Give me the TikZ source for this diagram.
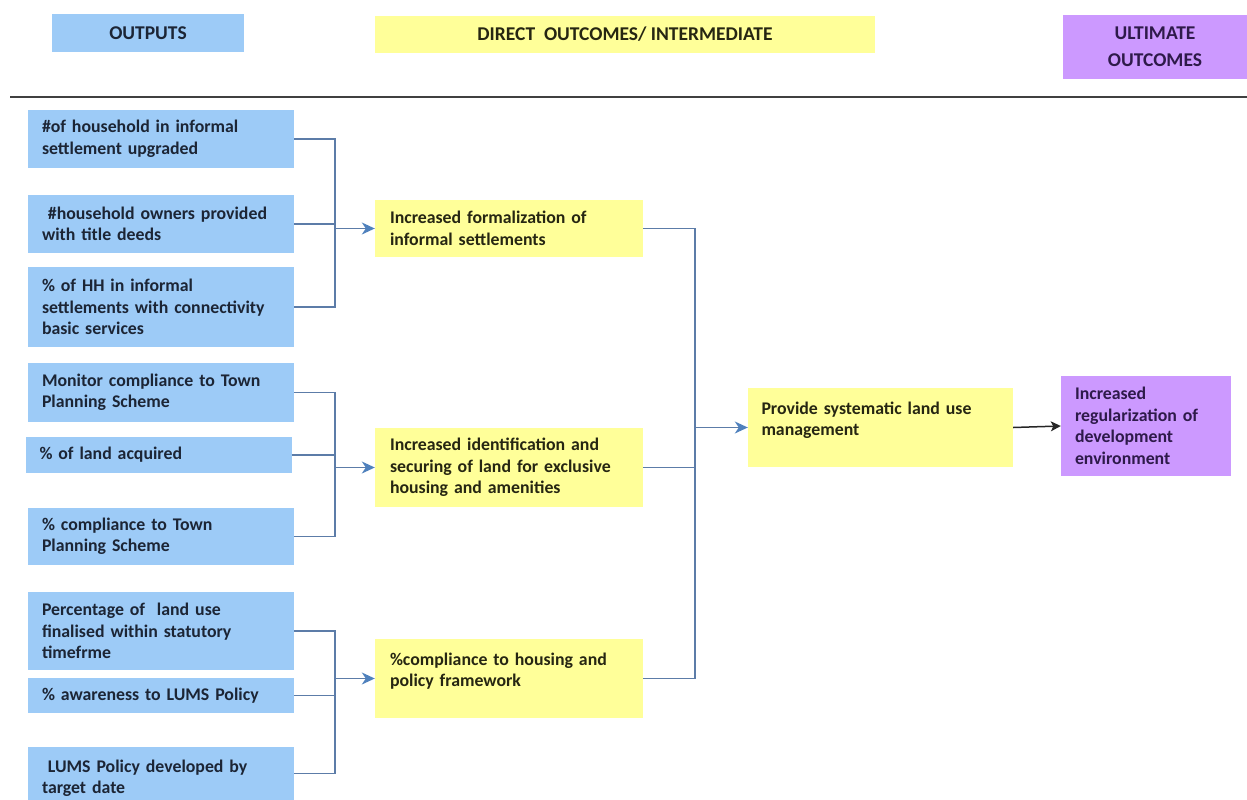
\documentclass[tikz,border=0pt]{standalone}
\usepackage{fontspec}
\setmainfont{Carlito}
\usetikzlibrary{arrows.meta}
\definecolor{outblue}{HTML}{9DCBF7}
\definecolor{dyellow}{HTML}{FFFF99}
\definecolor{upurple}{HTML}{CC99FF}
\definecolor{linec}{HTML}{5C7CA8}
\definecolor{tipc}{HTML}{4F81BD}
\definecolor{navytext}{HTML}{1C2535}
\definecolor{olivetext}{HTML}{262612}
\definecolor{purptext}{HTML}{2E1A4A}
\tikzset{
  base/.style={rectangle, inner sep=0pt, font=\fontsize{17.8}{21.5}\selectfont\bfseries},
  outbox/.style={base, fill=outblue, text=navytext, minimum width=266pt, text width=238pt, align=left},
  dirbox/.style={base, fill=dyellow, text=olivetext, text width=238pt, align=left},
  ultbox/.style={base, fill=upurple, text=purptext, text width=142pt, align=left},
  hdrbox/.style={rectangle, inner sep=0pt, font=\fontsize{19.5}{27}\selectfont\bfseries, align=center},
  conn/.style={draw=linec, line width=1.4pt},
  arr/.style={conn, -{Stealth[length=13pt,width=12pt,inset=4pt,color=tipc]}},
  blackarr/.style={draw=black!85, line width=1.5pt, -{Stealth[length=10pt,width=10pt,inset=2.5pt]}}
}
\begin{document}
\begin{tikzpicture}[x=1pt,y=-1pt]
\useasboundingbox (0,0) rectangle (1247,800);
% headers
\node[hdrbox, fill=outblue, text=navytext, minimum width=192pt, minimum height=38pt] (hout) at (148,33) {OUTPUTS};
\node[hdrbox, fill=dyellow, text=olivetext, minimum width=500pt, minimum height=37pt] (hdir) at (625,34.5) {DIRECT\ \ OUTCOMES/ INTERMEDIATE};
\node[hdrbox, fill=upurple, text=purptext, minimum width=184pt, minimum height=64pt] (hult) at (1155,47) {ULTIMATE\\OUTCOMES};
\coordinate (rl) at (10,97);
\coordinate (rr) at (1247,97);
\draw[line width=1.6pt, black!75] (rl) -- (rr);
% outputs
\node[outbox, minimum height=58pt] (o1) at (161,139) {\#of household in informal\\settlement upgraded};
\node[outbox, minimum height=58pt] (o2) at (161,224) {\ \#household owners provided\\with title deeds};
\node[outbox, minimum height=80pt] (o3) at (161,307) {\% of HH in informal\\settlements with connectivity\\basic services};
\node[outbox, minimum height=59pt] (o4) at (161,392.5) {Monitor compliance to Town\\Planning Scheme};
\node[outbox, minimum height=36pt] (o5) at (158.5,455) {\% of land acquired};
\node[outbox, minimum height=57pt] (o6) at (161,536.5) {\% compliance to Town\\Planning Scheme};
\node[outbox, minimum height=78pt] (o7) at (161,631) {Percentage of\ \ land use\\finalised within statutory\\timefrme};
\node[outbox, minimum height=35pt] (o8) at (161,695.5) {\% awareness to LUMS Policy};
\node[outbox, minimum height=53pt] (o9) at (161,773.5) {\rule{0pt}{22pt}\ LUMS Policy developed by\\target date};
% direct outcomes
\node[dirbox, minimum width=268pt, minimum height=57pt] (y1) at (509,228.5) {Increased formalization of\\informal settlements};
\node[dirbox, minimum width=268pt, minimum height=79pt] (y2) at (509,467.5) {Increased identification and\\securing of land for exclusive\\housing and amenities};
\node[dirbox, minimum width=268pt, minimum height=79pt] (y3) at (509,678.5) {\%compliance to housing and\\policy framework\\[-4pt]\mbox{}};
\node[dirbox, minimum width=265pt, minimum height=79pt] (pv) at (880.5,427.5) {Provide systematic land use\\management\\[-4pt]\mbox{}};
% ultimate
\node[ultbox, minimum width=170pt, minimum height=100pt] (ul) at (1146,426) {Increased\\regularization of\\development\\environment};
% junctions
\coordinate (j1) at (335,228.5);
\coordinate (j2) at (335,467.5);
\coordinate (j3) at (335,678.5);
\coordinate (j4) at (695,427.5);
% group 1
\draw[conn] (o1.east) -| (j1);
\draw[conn] (o3.east) -| (j1);
\draw[conn] (o2.east) -- (o2.east -| j1);
\draw[arr] (j1) -- (y1.west);
% group 2
\draw[conn] (o4.east) -| (j2);
\draw[conn] (o6.east) -| (j2);
\draw[conn] (o5.east) -- (o5.east -| j2);
\draw[arr] (j2) -- (y2.west);
% group 3
\draw[conn] (o7.east) -| (j3);
\draw[conn] (o9.east) -| (j3);
\draw[conn] (o8.east) -- (o8.east -| j3);
\draw[arr] (j3) -- (y3.west);
% right
\draw[conn] (y1.east) -| (j4);
\draw[conn] (y3.east) -| (j4);
\draw[conn] (y2.east) -- (y2.east -| j4);
\draw[arr] (j4) -- (pv.west);
\draw[blackarr] (pv.east) -- (ul.west);
\end{tikzpicture}
\end{document}
